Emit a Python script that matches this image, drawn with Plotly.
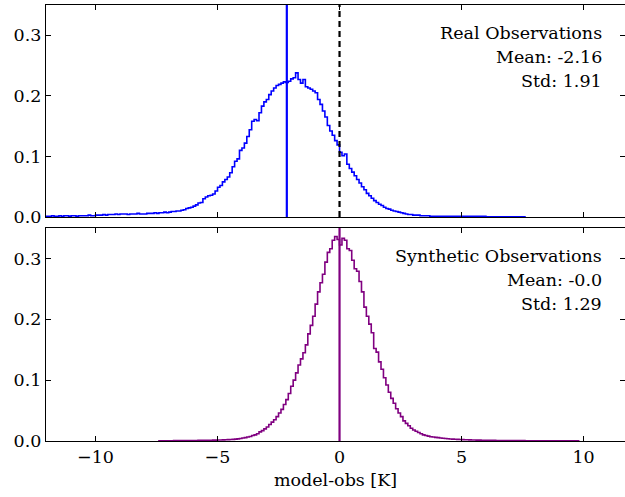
import numpy as np
import plotly.graph_objects as go
from plotly.subplots import make_subplots

# Histogram densities of model-obs differences, bin width 0.1 K
real_start = -12.5
real_density = [
    # -12.5 .. -12.0
    0.001, 0.001, 0.002, 0.001, 0.001,
    # -12.0 .. -10.0
    0.001, 0.001, 0.002, 0.001, 0.001, 0.002, 0.001, 0.002, 0.002, 0.001,
    0.002, 0.002, 0.001, 0.002, 0.002, 0.002, 0.002, 0.003, 0.002, 0.002,
    # -10.0 .. -8.0
    0.003, 0.003, 0.003, 0.004, 0.003, 0.004, 0.004, 0.004, 0.005, 0.004,
    0.005, 0.005, 0.005, 0.004, 0.005, 0.005, 0.005, 0.006, 0.005, 0.005,
    # -8.0 .. -6.0
    0.005, 0.006, 0.006, 0.006, 0.007, 0.006, 0.007, 0.007, 0.008, 0.007,
    0.008, 0.009, 0.009, 0.010, 0.010, 0.011, 0.012, 0.014, 0.015, 0.016,
    # -6.0 .. -4.0
    0.018, 0.020, 0.023, 0.024, 0.030, 0.033, 0.035, 0.036, 0.038, 0.043,
    0.049, 0.052, 0.058, 0.062, 0.066, 0.073, 0.083, 0.092, 0.096, 0.110,
    # -4.0 .. -2.0
    0.114, 0.122, 0.133, 0.144, 0.158, 0.161, 0.159, 0.172, 0.183, 0.190,
    0.194, 0.202, 0.208, 0.213, 0.217, 0.219, 0.221, 0.223, 0.222, 0.224,
    # -2.0 .. 0.0
    0.228, 0.230, 0.238, 0.227, 0.221, 0.227, 0.215, 0.213, 0.211, 0.208,
    0.205, 0.194, 0.186, 0.175, 0.165, 0.151, 0.142, 0.135, 0.126, 0.119,
    # 0.0 .. 2.0
    0.107, 0.101, 0.104, 0.087, 0.080, 0.074, 0.068, 0.062, 0.056, 0.050,
    0.045, 0.039, 0.035, 0.031, 0.027, 0.024, 0.021, 0.019, 0.016, 0.014,
    # 2.0 .. 4.0
    0.013, 0.011, 0.010, 0.009, 0.008, 0.007, 0.006, 0.005, 0.004, 0.004,
    0.003, 0.003, 0.003, 0.002, 0.002, 0.002, 0.002, 0.001, 0.001, 0.001,
    # 4.0 .. 7.6
    0.001, 0.001, 0.001, 0.001, 0.001, 0.001, 0.001, 0.001, 0.001, 0.001,
    0.001, 0.001, 0.001, 0.001, 0.001, 0.001, 0.001, 0.001, 0.001, 0.001,
    0.0005, 0.0005, 0.0005, 0.0005, 0.0005, 0.0005, 0.0005, 0.0005, 0.0005, 0.0005,
    0.0005, 0.0005, 0.0005, 0.0005, 0.0005, 0.0005,
]

synth_start = -7.4
synth_density = [
    # -7.4 .. -5.0
    0.0005, 0.0005, 0.0005, 0.0005, 0.0005, 0.0005, 0.0006, 0.0006, 0.0006, 0.0007,
    0.0007, 0.0007, 0.0008, 0.0008, 0.0009, 0.0009, 0.0010, 0.0010, 0.0011, 0.0012,
    0.0012, 0.0013, 0.0014, 0.0015,
    # -5.0 .. -3.0
    0.0016, 0.0017, 0.0019, 0.0020, 0.0022, 0.0025, 0.0027, 0.0030, 0.0035, 0.0042,
    0.0050, 0.0055, 0.0065, 0.0075, 0.0090, 0.0100, 0.0120, 0.0150, 0.0170, 0.0200,
    # -3.0 .. -1.0
    0.0230, 0.0270, 0.0310, 0.0350, 0.0400, 0.0460, 0.0520, 0.0600, 0.0680, 0.0780,
    0.0900, 0.1000, 0.1120, 0.1250, 0.1350, 0.1450, 0.1580, 0.1760, 0.1900, 0.2050,
    # -1.0 .. 1.0
    0.2250, 0.2450, 0.2600, 0.2740, 0.2940, 0.3100, 0.3160, 0.3300, 0.3360, 0.3310,
    0.3220, 0.3330, 0.3300, 0.3160, 0.3130, 0.2970, 0.2830, 0.2790, 0.2620, 0.2450,
    # 1.0 .. 3.0
    0.2200, 0.2050, 0.1920, 0.1780, 0.1520, 0.1460, 0.1300, 0.1180, 0.1040, 0.0920,
    0.0800, 0.0700, 0.0620, 0.0530, 0.0460, 0.0400, 0.0330, 0.0290, 0.0250, 0.0210,
    # 3.0 .. 5.0
    0.0180, 0.0160, 0.0140, 0.0120, 0.0100, 0.0090, 0.0080, 0.0070, 0.0065, 0.0060,
    0.0055, 0.0050, 0.0045, 0.0040, 0.0037, 0.0034, 0.0031, 0.0029, 0.0027, 0.0025,
    # 5.0 .. 9.8
    0.0023, 0.0021, 0.0020, 0.0018, 0.0017, 0.0016, 0.0015, 0.0014, 0.0013, 0.0012,
    0.0012, 0.0011, 0.0010, 0.0010, 0.0009, 0.0009, 0.0008, 0.0008, 0.0008, 0.0007,
    0.0007, 0.0007, 0.0006, 0.0006, 0.0006, 0.0006, 0.0005, 0.0005, 0.0005, 0.0005,
    0.0005, 0.0005, 0.0005, 0.0004, 0.0004, 0.0004, 0.0004, 0.0004, 0.0004, 0.0004,
    0.0004, 0.0003, 0.0003, 0.0003, 0.0003, 0.0003, 0.0003, 0.0003,
]
bin_width = 0.1

real_mean, real_std = -2.16, 1.91
synth_mean, synth_std = -0.0, 1.29

x_ticks = [-10, -5, 0, 5, 10]
x_tick_text = ["\u221210", "\u22125", "0", "5", "10"]
y_ticks = [0.0, 0.1, 0.2, 0.3]
y_tick_text = ["0.0", "0.1", "0.2", "0.3"]

FONT = "DejaVu Serif"
FONT_SIZE = 17.5
BLUE = "#0000ff"
PURPLE = "#800080"


def step_outline(start, density):
    """Return x/y for an 'hv' step outline of a histogram (closed to zero)."""
    edges = start + bin_width * np.arange(len(density) + 1)
    xs = [edges[0]] + list(edges[:-1]) + [edges[-1]]
    ys = [0.0] + list(density) + [0.0]
    return xs, ys


fig = make_subplots(rows=2, cols=1, shared_xaxes=True, vertical_spacing=0.0)

rx, ry = step_outline(real_start, real_density)
fig.add_trace(go.Scatter(x=rx, y=ry, mode="lines", line=dict(color=BLUE, width=1.6, shape="hv"),
                         showlegend=False, hoverinfo="skip"), row=1, col=1)
sx, sy = step_outline(synth_start, synth_density)
fig.add_trace(go.Scatter(x=sx, y=sy, mode="lines", line=dict(color=PURPLE, width=1.6, shape="hv"),
                         showlegend=False, hoverinfo="skip"), row=2, col=1)

# vertical reference lines: means and zero
fig.add_shape(type="line", xref="x", yref="y domain", x0=real_mean, x1=real_mean, y0=0, y1=1,
              line=dict(color=BLUE, width=2.2))
fig.add_shape(type="line", xref="x", yref="y domain", x0=0, x1=0, y0=0, y1=1,
              line=dict(color="black", width=2.2, dash="6px,4px"))
fig.add_shape(type="line", xref="x2", yref="y2 domain", x0=synth_mean, x1=synth_mean, y0=0, y1=1,
              line=dict(color=PURPLE, width=2.2))


# stats text, one right-aligned line at a time
def add_stats(panel, title, mean, std):
    lines = [title, f"Mean: {mean}", f"Std: {std}"]
    for text, yy in zip(lines, [0.868, 0.755, 0.642]):
        fig.add_annotation(xref=f"x{panel} domain", yref=f"y{panel} domain", x=0.963, y=yy,
                           xanchor="right", yanchor="middle", showarrow=False, text=text,
                           font=dict(family=FONT, size=FONT_SIZE, color="black"))


add_stats("", "Real Observations", real_mean, real_std)
add_stats("2", "Synthetic Observations", synth_mean, synth_std)

axis_common = dict(showline=True, linecolor="black", linewidth=1.2, mirror="ticks",
                   ticks="inside", ticklen=5, tickwidth=1, tickcolor="black",
                   showgrid=False, zeroline=False,
                   tickfont=dict(family=FONT, size=FONT_SIZE, color="black"))

fig.update_xaxes(range=[-12.03, 11.7], tickvals=x_ticks, ticktext=x_tick_text, **axis_common)
fig.update_xaxes(showticklabels=False, row=1, col=1)
fig.update_xaxes(title=dict(text="model-obs [K]", font=dict(family=FONT, size=FONT_SIZE, color="black"),
                            standoff=7), row=2, col=1)
fig.update_yaxes(range=[0, 0.35], tickvals=y_ticks, ticktext=y_tick_text, **axis_common)

fig.update_layout(
    width=625, height=497,
    margin=dict(l=46, r=0, t=5, b=56),
    paper_bgcolor="white", plot_bgcolor="white",
    yaxis=dict(domain=[0.5138, 1.0]),
    yaxis2=dict(domain=[0.0, 0.4885]),
    font=dict(family=FONT, color="black"),
)

fig.write_html("out.html")
